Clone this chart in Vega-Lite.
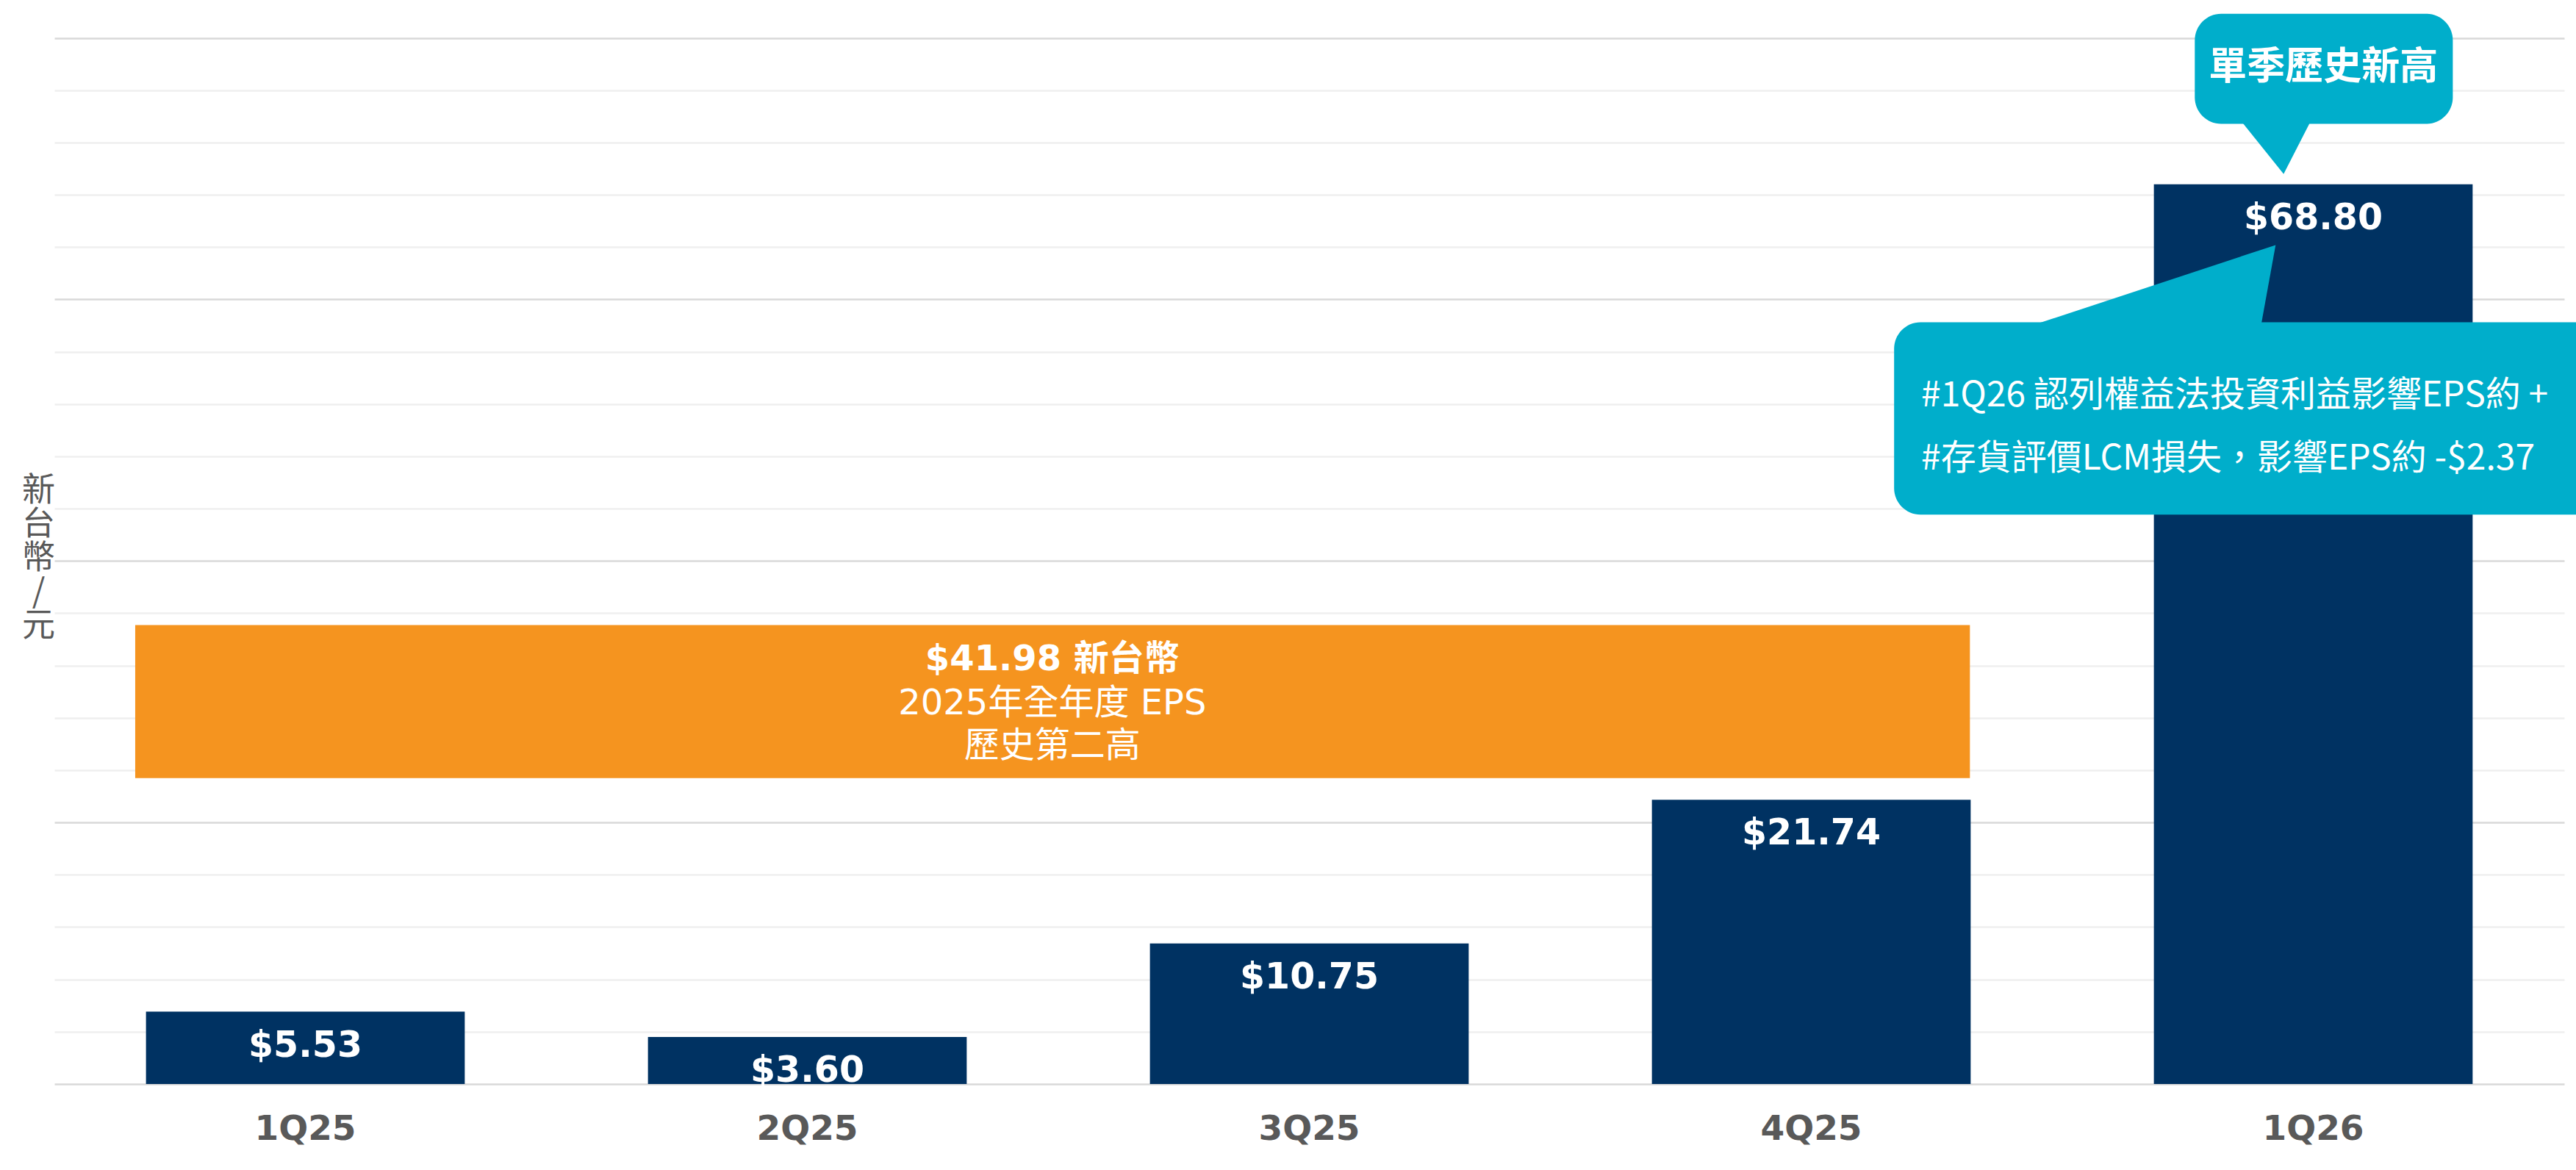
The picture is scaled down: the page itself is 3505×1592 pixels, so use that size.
{
  "$schema": "https://vega.github.io/schema/vega-lite/v6.json",
  "autosize": {"type": "none"},
  "width": 3415,
  "height": 1475,
  "padding": {"left": 74, "top": 0, "right": 16, "bottom": 117},
  "background": "#ffffff",
  "config": {"view": {"stroke": null}, "font": "DejaVu Sans"},
  "datasets": {
    "eps": [
      {"q": "1Q25", "eps": 5.53},
      {"q": "2Q25", "eps": 3.60},
      {"q": "3Q25", "eps": 10.75},
      {"q": "4Q25", "eps": 21.74},
      {"q": "1Q26", "eps": 68.80}
    ],
    "annualBox": [{"x0": 0.161, "x1": 3.816, "y0": 23.4, "y1": 35.1}],
    "annualBold": [{"x": 1.988, "y": 32.42, "t": "$41.98 新台幣"}],
    "annualText": [
      {"x": 1.988, "y": 29.04, "t": "2025年全年度 EPS"},
      {"x": 1.988, "y": 25.79, "t": "歷史第二高"}
    ],
    "callBoxes": [
      {"name": "top", "x0": 4.264, "x1": 4.778, "y0": 73.43, "y1": 81.85},
      {"name": "bottom", "x0": 3.665, "x1": 5.4, "y0": 43.54, "y1": 58.26}
    ],
    "pointers": [
      {"g": "top", "y": 69.6, "xl": 4.441, "xr": 4.441},
      {"g": "top", "y": 73.8, "xl": 4.353, "xr": 4.497},
      {"g": "bottom", "y": 57.8, "xl": 3.923, "xr": 4.395},
      {"g": "bottom", "y": 64.16, "xl": 4.425, "xr": 4.425}
    ],
    "topCallText": [{"x": 4.52, "y": 77.75, "t": "單季歷史新高"}],
    "noteText": [
      {"x": 3.719, "y": 52.6, "t": "#1Q26 認列權益法投資利益影響EPS約 +"},
      {"x": 3.719, "y": 47.8, "t": "#存貨評價LCM損失，影響EPS約 -$2.37"}
    ]
  },
  "layer": [
    {
      "data": {"name": "eps"},
      "encoding": {
        "x": {
          "field": "q",
          "type": "nominal",
          "sort": null,
          "scale": {"paddingInner": 0.365, "paddingOuter": 0.1825},
          "axis": {
            "title": null,
            "domain": false,
            "ticks": false,
            "grid": false,
            "labelAngle": 0,
            "labelFont": "DejaVu Sans",
            "labelFontSize": 47,
            "labelFontWeight": "bold",
            "labelColor": "#595959",
            "labelPadding": 38
          }
        },
        "y": {
          "field": "eps",
          "type": "quantitative",
          "scale": {"domain": [0, 82.9], "nice": false, "zero": true},
          "axis": {
            "values": [0, 2, 4, 6, 8, 10, 12, 14, 16, 18, 20, 22, 24, 26, 28, 30, 32, 34, 36, 38, 40, 42, 44, 46, 48, 50, 52, 54, 56, 58, 60, 62, 64, 66, 68, 70, 72, 74, 76, 78, 80],
            "labels": false,
            "ticks": false,
            "domain": false,
            "grid": true,
            "gridWidth": 2.5,
            "gridColor": {"condition": {"test": "datum.value % 10 === 0", "value": "#d9d9d9"}, "value": "#efefef"},
            "title": ["新", "台", "幣", "/", "元"],
            "titleAngle": 0,
            "titleX": -22,
            "titleY": 667,
            "titleAlign": "center",
            "titleBaseline": "middle",
            "titleFont": "Noto Sans CJK TC",
            "titleFontSize": 45,
            "titleFontWeight": "normal",
            "titleColor": "#595959",
            "titleLineHeight": 46
          }
        }
      },
      "layer": [
        {"mark": {"type": "bar", "color": "#003262"}},
        {
          "mark": {"type": "text", "color": "#ffffff", "font": "DejaVu Sans", "fontSize": 49, "fontWeight": "bold", "baseline": "middle", "align": "center", "dy": 46},
          "encoding": {"text": {"field": "eps", "type": "quantitative", "format": "$.2f"}}
        }
      ]
    },
    {
      "layer": [
        {
          "data": {"name": "annualBox"},
          "mark": {"type": "rect", "color": "#F5941F"},
          "encoding": {
            "x": {"field": "x0", "type": "quantitative", "scale": {"domain": [0, 5], "nice": false, "zero": false}, "axis": null},
            "x2": {"field": "x1"},
            "y": {"field": "y0", "type": "quantitative"},
            "y2": {"field": "y1"}
          }
        },
        {
          "data": {"name": "annualBold"},
          "mark": {"type": "text", "color": "#ffffff", "font": "DejaVu Sans, Noto Sans CJK TC", "fontSize": 48, "fontWeight": "bold", "align": "center", "baseline": "middle"},
          "encoding": {
            "x": {"field": "x", "type": "quantitative", "axis": null},
            "y": {"field": "y", "type": "quantitative"},
            "text": {"field": "t"}
          }
        },
        {
          "data": {"name": "annualText"},
          "mark": {"type": "text", "color": "#ffffff", "font": "DejaVu Sans, Noto Sans CJK TC", "fontSize": 48, "fontWeight": "normal", "align": "center", "baseline": "middle"},
          "encoding": {
            "x": {"field": "x", "type": "quantitative", "axis": null},
            "y": {"field": "y", "type": "quantitative"},
            "text": {"field": "t"}
          }
        },
        {
          "data": {"name": "callBoxes"},
          "mark": {"type": "rect", "color": "#00AECB", "cornerRadius": 36},
          "encoding": {
            "x": {"field": "x0", "type": "quantitative", "axis": null},
            "x2": {"field": "x1"},
            "y": {"field": "y0", "type": "quantitative"},
            "y2": {"field": "y1"}
          }
        },
        {
          "data": {"name": "pointers"},
          "mark": {"type": "area", "orient": "horizontal", "color": "#00AECB", "opacity": 1},
          "encoding": {
            "y": {"field": "y", "type": "quantitative"},
            "x": {"field": "xl", "type": "quantitative", "axis": null},
            "x2": {"field": "xr"},
            "detail": {"field": "g"}
          }
        },
        {
          "data": {"name": "topCallText"},
          "mark": {"type": "text", "color": "#ffffff", "font": "Noto Sans CJK TC", "fontSize": 52, "fontWeight": "bold", "align": "center", "baseline": "middle"},
          "encoding": {
            "x": {"field": "x", "type": "quantitative", "axis": null},
            "y": {"field": "y", "type": "quantitative"},
            "text": {"field": "t"}
          }
        },
        {
          "data": {"name": "noteText"},
          "mark": {"type": "text", "color": "#ffffff", "font": "Noto Sans CJK TC", "fontSize": 48, "fontWeight": "normal", "align": "left", "baseline": "middle"},
          "encoding": {
            "x": {"field": "x", "type": "quantitative", "axis": null},
            "y": {"field": "y", "type": "quantitative"},
            "text": {"field": "t"}
          }
        }
      ]
    }
  ],
  "resolve": {"scale": {"x": "independent"}}
}
